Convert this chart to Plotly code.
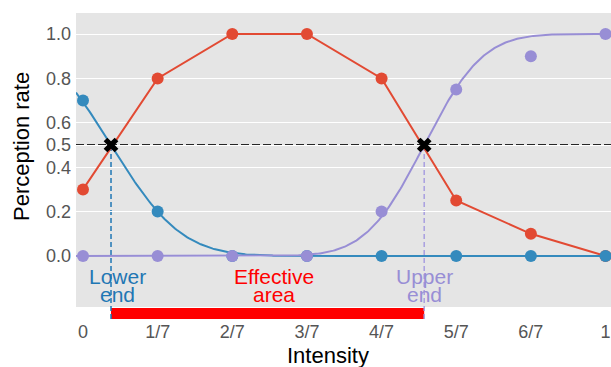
import math
import numpy as np
import plotly.graph_objects as go

# Stimulus intensities and perception rates for the three response categories
intensity = [0, 1/7, 2/7, 3/7, 4/7, 5/7, 6/7, 1]
tick_text = ["0", "1/7", "2/7", "3/7", "4/7", "5/7", "6/7", "1"]
rate_low = [0.7, 0.2, 0.0, 0.0, 0.0, 0.0, 0.0, 0.0]
rate_mid = [0.3, 0.8, 1.0, 1.0, 0.8, 0.25, 0.1, 0.0]
rate_high = [0.0, 0.0, 0.0, 0.0, 0.2, 0.75, 0.9, 1.0]
y_ticks = [0.0, 0.2, 0.4, 0.5, 0.6, 0.8, 1.0]
y_tick_text = ["0.0", "0.2", "0.4", "0.5", "0.6", "0.8", "1.0"]

# Fitted psychometric (cumulative normal) parameters: 50% points and spread
low_mu, low_sigma = 0.0536, 0.106
high_mu, high_sigma = 0.653, 0.088

BLUE = "#348ABD"
RED = "#E24A33"
PURPLE = "#988ED5"
FONT = "Liberation Sans, Arial, sans-serif"

X_RANGE = [-0.0134, 1.0105]
Y_RANGE = [-0.2297, 1.0946]

W, H = 611, 367
ML, MR, MT, MB = 76, 0, 13, 60
PW, PH = W - ML - MR, H - MT - MB


def norm_cdf(x, mu, sigma):
    return np.array([0.5 * (1 + math.erf((v - mu) / (sigma * math.sqrt(2)))) for v in x])


def px_x(px):
    return (px - ML) / PW


def px_y(py):
    return (MT + PH - py) / PH


xs = np.linspace(X_RANGE[0], X_RANGE[1], 400)
low_curve = 1 - norm_cdf(xs, low_mu, low_sigma)
high_curve = norm_cdf(xs, high_mu, high_sigma)

fig = go.Figure()

# Middle category: points joined by straight segments
fig.add_trace(go.Scatter(x=intensity, y=rate_mid, mode="lines+markers",
                         line=dict(color=RED, width=2),
                         marker=dict(color=RED, size=12), cliponaxis=False))
# Low category: fitted curve + points
fig.add_trace(go.Scatter(x=xs, y=low_curve, mode="lines",
                         line=dict(color=BLUE, width=2)))
fig.add_trace(go.Scatter(x=intensity, y=rate_low, mode="markers",
                         marker=dict(color=BLUE, size=12), cliponaxis=False))
# High category: fitted curve + points
fig.add_trace(go.Scatter(x=xs, y=high_curve, mode="lines",
                         line=dict(color=PURPLE, width=2)))
fig.add_trace(go.Scatter(x=intensity, y=rate_high, mode="markers",
                         marker=dict(color=PURPLE, size=12), cliponaxis=False))
# Threshold crossings
fig.add_trace(go.Scatter(x=[low_mu, high_mu], y=[0.5, 0.5], mode="markers",
                         marker=dict(symbol="x", color="black", size=13,
                                     line=dict(width=0))))

half_paper = (0.5 - Y_RANGE[0]) / (Y_RANGE[1] - Y_RANGE[0])
bar_top, bar_bottom = px_y(308), px_y(319)

shapes = [
    # 50% reference line
    dict(type="line", xref="paper", yref="y", x0=0, x1=1, y0=0.5, y1=0.5,
         line=dict(color="#262626", width=2, dash="8px,3px"), layer="between"),
    # effective area bar below the panel
    dict(type="rect", xref="x", yref="paper", x0=low_mu, x1=high_mu,
         y0=bar_bottom, y1=bar_top, fillcolor="#FF0000", line=dict(width=0),
         layer="between"),
    # lower / upper end markers
    dict(type="line", xref="x", yref="paper", x0=low_mu, x1=low_mu,
         y0=bar_bottom, y1=half_paper,
         line=dict(color="#1f77b4", width=1.5, dash="5px,3px"), layer="between"),
    dict(type="line", xref="x", yref="paper", x0=high_mu, x1=high_mu,
         y0=bar_bottom, y1=half_paper,
         line=dict(color="#A89FE0", width=1.5, dash="5px,3px"), layer="between"),
]

ann_font = 21
line1_y, line2_y = px_y(276.5), px_y(294)
annotations = [
    dict(text="Lower", x=low_mu, xshift=6, y=line1_y, font=dict(color="#1f77b4", size=ann_font)),
    dict(text="end", x=low_mu, xshift=6, y=line2_y, font=dict(color="#1f77b4", size=ann_font)),
    dict(text="Effective", x=(low_mu + high_mu) / 2, xshift=6, y=line1_y,
         font=dict(color="#FF0000", size=ann_font)),
    dict(text="area", x=(low_mu + high_mu) / 2, xshift=6, y=line2_y,
         font=dict(color="#FF0000", size=ann_font)),
    dict(text="Upper", x=high_mu, y=line1_y, font=dict(color=PURPLE, size=ann_font)),
    dict(text="end", x=high_mu, y=line2_y, font=dict(color=PURPLE, size=ann_font)),
]
for a in annotations:
    a.update(xref="x", yref="paper", showarrow=False, xanchor="center", yanchor="middle")

annotations += [
    dict(text="Intensity", xref="paper", yref="paper", x=px_x(328), y=px_y(355),
         showarrow=False, xanchor="center", yanchor="middle",
         font=dict(color="black", size=22)),
    dict(text="Perception rate", xref="paper", yref="paper", x=px_x(22), y=px_y(147),
         showarrow=False, xanchor="center", yanchor="middle", textangle=-90,
         font=dict(color="black", size=22)),
]

fig.update_layout(
    width=W, height=H,
    margin=dict(l=ML, r=MR, t=MT, b=MB, pad=0),
    paper_bgcolor="white", plot_bgcolor="#E5E5E5",
    showlegend=False,
    font=dict(family=FONT, color="#555555", size=18),
    shapes=shapes, annotations=annotations,
)
fig.update_xaxes(range=X_RANGE, tickvals=intensity, ticktext=tick_text,
                 showgrid=False, zeroline=False, showline=False, ticks="",
                 ticklabelstandoff=12, tickfont=dict(size=18, color="#555555"))
fig.update_yaxes(range=Y_RANGE, tickvals=y_ticks, ticktext=y_tick_text,
                 showgrid=True, gridcolor="white", gridwidth=1, zeroline=False,
                 showline=False, ticks="", ticklabelstandoff=4,
                 tickfont=dict(size=18, color="#555555"))

fig.write_html("out.html")
